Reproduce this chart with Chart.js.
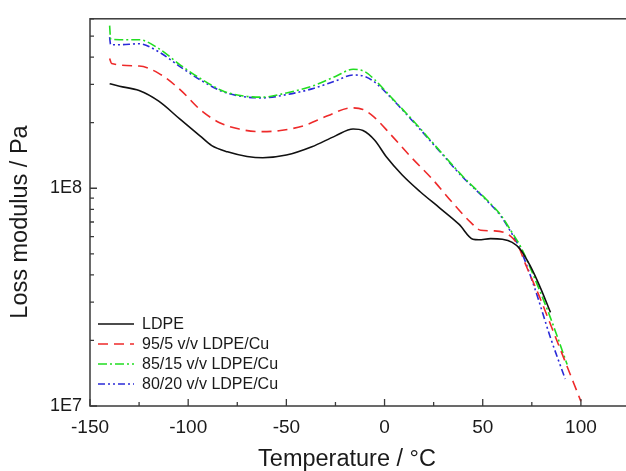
<!DOCTYPE html>
<html>
<head>
<meta charset="utf-8">
<script src="https://cdn.jsdelivr.net/npm/chart.js@4.4.1/dist/chart.umd.min.js"></script>
<style>
  html, body { margin: 0; padding: 0; background: #fff; overflow: hidden; }
  #wrap { width: 636px; height: 471px; }
</style>
</head>
<body>
<div id="wrap"><canvas id="c" width="636" height="471"></canvas></div>
<script>
// ---- Data ----
const seriesLabels = ['LDPE', '95/5 v/v LDPE/Cu', '85/15 v/v LDPE/Cu', '80/20 v/v LDPE/Cu'];
const xTitle = 'Temperature / °C';
const yTitle = 'Loss modulus / Pa';

const ldpeT = [-140, -135, -125, -115, -104, -94, -88, -80, -70, -62, -50, -37, -25, -16, -11, -5, 1, 9, 18, 28, 38, 45, 48, 54, 60, 65, 69, 74, 79.5, 84.5];
const ldpeE = [3.02e8, 2.94e8, 2.81e8, 2.51e8, 2.07e8, 1.74e8, 1.57e8, 1.47e8, 1.40e8, 1.38e8, 1.42e8, 1.55e8, 1.74e8, 1.87e8, 1.84e8, 1.66e8, 1.39e8, 1.15e8, 9.66e7, 8.13e7, 6.82e7, 5.83e7, 5.80e7, 5.87e7, 5.83e7, 5.64e7, 5.26e7, 4.43e7, 3.47e7, 2.69e7];

const cu5T = [-140, -139, -125, -115, -104, -94, -84, -74, -64, -53, -41, -29, -17, -11, -5, 3, 13.5, 24, 34, 44, 49, 56, 64, 68, 72, 78.5, 88.5, 100];
const cu5E = [3.94e8, 3.74e8, 3.64e8, 3.37e8, 2.83e8, 2.30e8, 2.00e8, 1.87e8, 1.82e8, 1.84e8, 1.94e8, 2.15e8, 2.34e8, 2.30e8, 2.11e8, 1.77e8, 1.39e8, 1.11e8, 8.71e7, 6.95e7, 6.41e7, 6.37e7, 6.04e7, 5.45e7, 4.43e7, 3.24e7, 1.92e7, 1.05e7];

const cu15T = [-140, -139.5, -135, -125, -115, -104, -94, -82, -70, -62, -50, -37, -25, -16, -10, -5, 3, 15.5, 28, 40, 52, 59, 65, 69.5, 76.5, 84.5, 93];
const cu15E = [5.58e8, 4.85e8, 4.81e8, 4.81e8, 4.38e8, 3.68e8, 3.20e8, 2.79e8, 2.64e8, 2.62e8, 2.74e8, 2.94e8, 3.26e8, 3.52e8, 3.43e8, 3.15e8, 2.64e8, 2.00e8, 1.49e8, 1.13e8, 8.85e7, 7.57e7, 6.25e7, 5.35e7, 3.85e7, 2.54e7, 1.55e7];

const cu20T = [-140, -139.5, -135, -125, -115, -104, -94, -82, -70, -62, -50, -37, -25, -16, -10, -5, 3, 15.5, 28, 40, 52, 59, 65, 69.5, 76.5, 84.5, 92];
const cu20E = [4.94e8, 4.56e8, 4.56e8, 4.61e8, 4.23e8, 3.61e8, 3.15e8, 2.77e8, 2.62e8, 2.60e8, 2.69e8, 2.86e8, 3.11e8, 3.31e8, 3.26e8, 3.07e8, 2.62e8, 1.98e8, 1.48e8, 1.12e8, 8.79e7, 7.50e7, 6.15e7, 5.16e7, 3.47e7, 2.06e7, 1.33e7];

const xTickValues = [-150, -100, -50, 0, 50, 100];
const xMinorTicks = [-125, -75, -25, 25, 75, 125];
const yTickValues = [1e7, 1e8];
const yTickLabels = ['1E7', '1E8'];
const yMinorTicks = [2e7, 3e7, 4e7, 5e7, 6e7, 7e7, 8e7, 9e7, 2e8, 3e8, 4e8, 5e8, 6e8];

// ---- Build datasets ----
const pts = (T, E) => T.map((t, i) => ({ x: t, y: E[i] }));
const styles = [
  { color: '#111111', dash: [] },
  { color: '#ee2a2a', dash: [10, 6] },
  { color: '#22dd22', dash: [9, 3, 2, 3] },
  { color: '#2a2ad8', dash: [7, 3, 2, 3, 2, 3] }
];
const seriesData = [pts(ldpeT, ldpeE), pts(cu5T, cu5E), pts(cu15T, cu15E), pts(cu20T, cu20E)];
const datasets = seriesData.map((d, i) => ({
  label: seriesLabels[i],
  data: d,
  borderColor: styles[i].color,
  borderDash: styles[i].dash,
  borderWidth: 1.6,
  pointRadius: 0,
  fill: false,
  cubicInterpolationMode: 'monotone'
}));

const FONT = '"Liberation Sans", Arial, sans-serif';

const decor = {
  id: 'decor',
  afterDatasetsDraw(chart) {
    const { ctx, chartArea: a, scales } = chart;
    const xs = scales.x, ys = scales.y;
    ctx.save();
    ctx.strokeStyle = '#3a3a3a';
    ctx.lineWidth = 1.5;
    ctx.strokeRect(a.left, a.top, a.right - a.left, a.bottom - a.top);
    ctx.lineWidth = 1.3;
    ctx.beginPath();
    xTickValues.forEach(v => { const p = xs.getPixelForValue(v); ctx.moveTo(p, a.bottom); ctx.lineTo(p, a.bottom - 7); });
    xMinorTicks.forEach(v => { const p = xs.getPixelForValue(v); ctx.moveTo(p, a.bottom); ctx.lineTo(p, a.bottom - 4); });
    yTickValues.forEach(v => { const p = ys.getPixelForValue(v); ctx.moveTo(a.left, p); ctx.lineTo(a.left + 7, p); });
    yMinorTicks.forEach(v => { const p = ys.getPixelForValue(v); ctx.moveTo(a.left, p); ctx.lineTo(a.left + 4, p); });
    ctx.stroke();

    // axis titles
    ctx.fillStyle = '#1a1a1a';
    ctx.font = '23.5px ' + FONT;
    ctx.textAlign = 'center';
    ctx.textBaseline = 'middle';
    ctx.fillText(xTitle, 347, 460);
    ctx.save();
    ctx.translate(21, 222);
    ctx.rotate(-Math.PI / 2);
    ctx.fillText(yTitle, 0, 0);
    ctx.restore();

    // legend inside plot, lower left
    const lx0 = a.left + 8, lx1 = a.left + 44, tx = a.left + 52;
    const rowY = [324, 344, 364, 384];
    ctx.font = '16px ' + FONT;
    ctx.textAlign = 'left';
    ctx.textBaseline = 'middle';
    chart.data.datasets.forEach((ds, i) => {
      const y = rowY[i];
      ctx.strokeStyle = ds.borderColor;
      ctx.setLineDash(ds.borderDash);
      ctx.lineWidth = 1.6;
      ctx.beginPath(); ctx.moveTo(lx0, y); ctx.lineTo(lx1, y); ctx.stroke();
      ctx.setLineDash([]);
      ctx.fillText(ds.label, tx, y + 1);
    });
    ctx.restore();
  }
};

new Chart(document.getElementById('c'), {
  type: 'line',
  data: { datasets },
  plugins: [decor],
  options: {
    responsive: false,
    animation: false,
    devicePixelRatio: 1,
    layout: { padding: { top: 13, right: 6, left: 0, bottom: 0 } },
    plugins: { legend: { display: false }, tooltip: { enabled: false } },
    scales: {
      x: {
        type: 'linear', min: -150, max: 125,
        afterBuildTicks: s => { s.ticks = xTickValues.map(v => ({ value: v })); },
        afterFit: s => { s.height = 65; },
        grid: { display: false, drawTicks: false },
        border: { display: false },
        ticks: { padding: 10, color: '#1a1a1a', font: { family: FONT, size: 19 }, maxRotation: 0, callback: v => String(v) },
        title: { display: false }
      },
      y: {
        type: 'logarithmic', min: 1e7, max: 6e8,
        afterBuildTicks: s => { s.ticks = yTickValues.map(v => ({ value: v })); },
        afterFit: s => { s.width = 90; },
        grid: { display: false, drawTicks: false },
        border: { display: false },
        ticks: { padding: 8, color: '#1a1a1a', font: { family: FONT, size: 18 }, callback: v => { const i = yTickValues.indexOf(v); return i >= 0 ? yTickLabels[i] : ''; } },
        title: { display: false }
      }
    }
  }
});
</script>
</body>
</html>
